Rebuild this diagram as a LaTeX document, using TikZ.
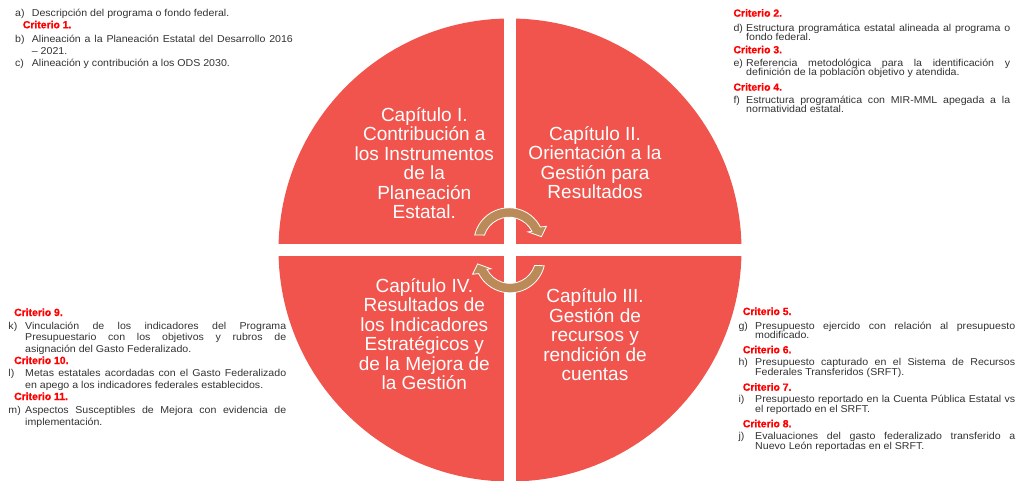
\documentclass[tikz,border=0pt]{standalone}
\usepackage{fontspec}
\setmainfont{Liberation Sans}
\newfontfamily\bodyf[FakeStretch=1.06]{Liberation Sans}
\newfontfamily\critf[BoldFeatures={FakeBold=0.8}]{Liberation Sans}
\definecolor{qred}{RGB}{240,84,77}
\definecolor{arrtan}{RGB}{186,138,88}
\definecolor{critred}{RGB}{255,0,0}
\definecolor{txt}{RGB}{50,50,50}
\newcommand{\J}[2]{\makebox[#1pt][s]{#2}}
\begin{document}
\begin{tikzpicture}[x=1pt,y=1pt,
  lbl/.style={font=\bodyf\fontsize{10}{12}\selectfont, text=txt, inner sep=0pt, anchor=base west},
  crit/.style={font=\critf\bfseries\fontsize{10.4}{12}\selectfont, text=critred, inner sep=0pt, anchor=base west},
  chap/.style={font=\fontsize{19}{19.5}\selectfont, text=white, align=center, inner sep=0pt},
  cyc/.pic={\fill[arrtan, draw=white, line width=0.8pt]
     (166.7:35.2) arc[start angle=166.7, end angle=27, radius=35.2]
     -- (24:41) -- (11:33) -- (30.5:22) -- (27:25.8)
     arc[start angle=27, end angle=162.2, radius=25.8] -- cycle;}
]
\useasboundingbox (0,0) rectangle (1016,-480);
\begin{scope}
  \clip (510,-250) circle (231.5);
  \fill[qred] (270,-10) rectangle (504,-244);
  \fill[qred] (516,-10) rectangle (750,-244);
  \fill[qred] (270,-256) rectangle (504,-490);
  \fill[qred] (516,-256) rectangle (750,-490);
\end{scope}

\node[chap] (ch1) at (424.3,-163.3) {Capítulo I.\\Contribución a\\los Instrumentos\\de la\\Planeación\\Estatal.};
\node[chap] (ch2) at (595,-162.8) {Capítulo II.\\Orientación a la\\Gestión para\\Resultados};
\node[chap] (ch4) at (424.3,-334.1) {Capítulo IV.\\Resultados de\\los Indicadores\\Estratégicos y\\de la Mejora de\\la Gestión};
\node[chap] (ch3) at (595,-334.6) {Capítulo III.\\Gestión de\\recursos y\\rendición de\\cuentas};

\pic at (509,-243) {cyc};
\pic[rotate=180] at (510,-257.6) {cyc};

% top left
\node[lbl] (la) at (15,-16.7) {a)};
\node[lbl] (ta) at (31.7,-16.7) {Descripción del programa o fondo federal.};
\node[crit] (c1) at (22.7,-28.3) {Criterio 1.};
\node[lbl] (lb) at (15,-42.7) {b)};
\node[lbl] (tb1) at (31.7,-42.7) {\J{261}{Alineación a la Planeación Estatal del Desarrollo 2016}};
\node[lbl] (tb2) at (31.7,-54.3) {– 2021.};
\node[lbl] (lc) at (15,-66.7) {c)};
\node[lbl] (tc) at (31.7,-66.7) {Alineación y contribución a los ODS 2030.};

% top right
\node[crit] (c2) at (733.3,-16.7) {Criterio 2.};
\node[lbl] (ld) at (733.3,-31.7) {d)};
\node[lbl] (td1) at (746,-31.7) {\J{264}{Estructura programática estatal alineada al programa o}};
\node[lbl] (td2) at (746,-40.7) {fondo federal.};
\node[crit] (c3) at (733.3,-53.3) {Criterio 3.};
\node[lbl] (le) at (733.3,-66.7) {e)};
\node[lbl] (te1) at (746,-66.7) {\J{264}{Referencia metodológica para la identificación y}};
\node[lbl] (te2) at (746,-75.7) {definición de la población objetivo y atendida.};
\node[crit] (c4) at (733.3,-90.7) {Criterio 4.};
\node[lbl] (lf) at (733.3,-103.3) {f)};
\node[lbl] (tf1) at (746,-103.3) {\J{264}{Estructura programática con MIR-MML apegada a la}};
\node[lbl] (tf2) at (746,-112.7) {normatividad estatal.};

% bottom right
\node[crit] (c5) at (742.7,-315) {Criterio 5.};
\node[lbl] (lg) at (738.3,-329) {g)};
\node[lbl] (tg1) at (755,-329) {\J{260}{Presupuesto ejercido con relación al presupuesto}};
\node[lbl] (tg2) at (755,-338.3) {modificado.};
\node[crit] (c6) at (742.7,-353.3) {Criterio 6.};
\node[lbl] (lh) at (738.3,-365.7) {h)};
\node[lbl] (th1) at (755,-365.7) {\J{260}{Presupuesto capturado en el Sistema de Recursos}};
\node[lbl] (th2) at (755,-375.7) {Federales Transferidos (SRFT).};
\node[crit] (c7) at (742.7,-390.7) {Criterio 7.};
\node[lbl] (li) at (738.3,-402.3) {i)};
\node[lbl] (ti1) at (755,-402.3) {\J{260}{Presupuesto reportado en la Cuenta Pública Estatal vs}};
\node[lbl] (ti2) at (755,-412.3) {el reportado en el SRFT.};
\node[crit] (c8) at (742.7,-427.3) {Criterio 8.};
\node[lbl] (lj) at (738.3,-439.3) {j)};
\node[lbl] (tj1) at (755,-439.3) {\J{260}{Evaluaciones del gasto federalizado transferido a}};
\node[lbl] (tj2) at (755,-449) {Nuevo León reportadas en el SRFT.};

% bottom left
\node[crit] (c9) at (14,-316) {Criterio 9.};
\node[lbl] (lk) at (8.3,-329.3) {k)};
\node[lbl] (tk1) at (25,-329.3) {\J{261}{Vinculación de los indicadores del Programa}};
\node[lbl] (tk2) at (25,-340) {\J{261}{Presupuestario con los objetivos y rubros de}};
\node[lbl] (tk3) at (25,-352.3) {asignación del Gasto Federalizado.};
\node[crit] (c10) at (14,-364) {Criterio 10.};
\node[lbl] (ll) at (8.3,-376.7) {l)};
\node[lbl] (tl1) at (25,-376.7) {\J{261}{Metas estatales acordadas con el Gasto Federalizado}};
\node[lbl] (tl2) at (25,-388.3) {en apego a los indicadores federales establecidos.};
\node[crit] (c11) at (14,-400) {Criterio 11.};
\node[lbl] (lm) at (8.3,-413.3) {m)};
\node[lbl] (tm1) at (25,-413.3) {\J{261}{Aspectos Susceptibles de Mejora con evidencia de}};
\node[lbl] (tm2) at (25,-425) {implementación.};
\end{tikzpicture}
\end{document}
